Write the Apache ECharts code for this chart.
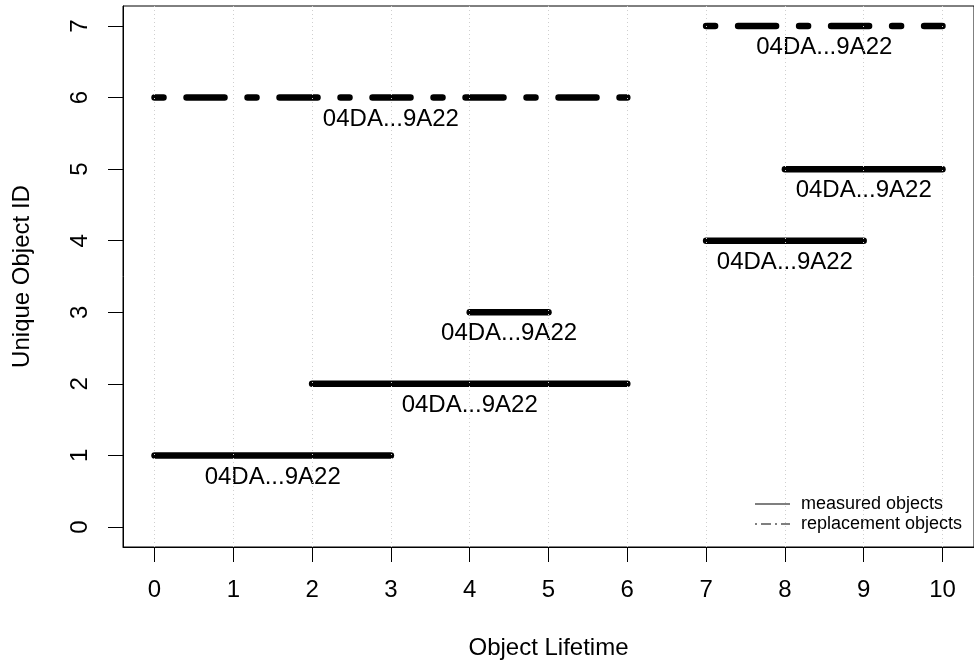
<!DOCTYPE html>
<html>
<head>
<meta charset="utf-8">
<script src="https://cdn.jsdelivr.net/npm/echarts@6/dist/echarts.min.js"></script>
<style>
  html, body { margin: 0; padding: 0; background: #fff; }
  #chart { width: 974px; height: 665px; }
</style>
</head>
<body>
<div id="chart"></div>
<script>
// ---- data ----
const objectIds    = [1, 2, 3, 4, 5, 6, 7];
const lifeStart    = [0, 2, 4, 7, 8, 0, 7];
const lifeEnd      = [3, 6, 5, 9, 10, 6, 10];
const objectKind   = ['measured', 'measured', 'measured', 'measured', 'measured', 'replacement', 'replacement'];
const objectLabels = ['04DA...9A22', '04DA...9A22', '04DA...9A22', '04DA...9A22', '04DA...9A22', '04DA...9A22', '04DA...9A22'];
const xTicks = [0, 1, 2, 3, 4, 5, 6, 7, 8, 9, 10];
const yTicks = [0, 1, 2, 3, 4, 5, 6, 7];
const legendNames = { measured: 'measured objects', replacement: 'replacement objects' };

// ---- chart ----
const FONT = '"Liberation Sans", Arial, Helvetica, sans-serif';
const chart = echarts.init(document.getElementById('chart'), null, { renderer: 'canvas' });

const dashDot = [9, 23, 38, 23];

const series = [];
objectIds.forEach((id, i) => {
  const kind = objectKind[i];
  series.push({
    type: 'line',
    name: legendNames[kind],
    data: [[lifeStart[i], id], [lifeEnd[i], id]],
    symbol: 'none',
    silent: true,
    lineStyle: {
      color: '#000',
      width: 6.5,
      cap: 'round',
      join: 'round',
      type: kind === 'measured' ? 'solid' : dashDot
    },
    itemStyle: { color: '#000' },
    z: 3
  });
});

// labels under each segment
series.push({
  type: 'scatter',
  name: 'labels',
  symbolSize: 1,
  silent: true,
  itemStyle: { color: 'rgba(0,0,0,0)', opacity: 1 },
  data: objectIds.map((id, i) => [(lifeStart[i] + lifeEnd[i]) / 2, id, objectLabels[i]]),
  label: {
    show: true,
    position: 'bottom',
    distance: 9,
    formatter: p => p.data[2],
    fontFamily: FONT,
    fontSize: 24,
    color: '#000',
    opacity: 1,
    textBorderWidth: 0
  },
  z: 4
});

// vertical dotted guide lines at x ticks
series.push({
  type: 'line',
  name: 'guides',
  data: [],
  silent: true,
  markLine: {
    silent: true,
    symbol: ['none', 'none'],
    label: { show: false },
    lineStyle: { color: '#cfcfcf', width: 1, type: [1, 3] },
    data: xTicks.map(v => ({ xAxis: v }))
  },
  z: 1
});

const option = {
  animation: false,
  backgroundColor: '#fff',
  textStyle: { fontFamily: FONT },
  grid: {
    left: 123, top: 6, right: -1, bottom: 118,
    show: true, borderColor: '#000', borderWidth: 1, backgroundColor: 'transparent'
  },
  legend: {
    orient: 'vertical',
    left: 750,
    top: 490,
    itemWidth: 35,
    itemHeight: 1,
    itemGap: 2,
    selectedMode: false,
    textStyle: { fontFamily: FONT, fontSize: 18, color: '#000', padding: [0, 0, 0, 6] },
    data: [
      { name: legendNames.measured, icon: 'path://M0,0H35V1H0Z', itemStyle: { color: '#000' } },
      { name: legendNames.replacement, icon: 'path://M0,0H2V1H0Z M6,0H16V1H6Z M20,0H22V1H20Z M26,0H35V1H26Z', itemStyle: { color: '#000' } }
    ]
  },
  xAxis: {
    type: 'value',
    min: -0.4,
    max: 10.4,
    name: 'Object Lifetime',
    nameLocation: 'middle',
    nameGap: 89,
    nameTextStyle: { fontFamily: FONT, fontSize: 24, color: '#000' },
    axisLine: { show: true, onZero: false, lineStyle: { color: '#000', width: 1 } },
    axisTick: { show: true, length: 15, inside: false, customValues: xTicks, lineStyle: { color: '#000' } },
    axisLabel: { show: true, customValues: xTicks, margin: 31, fontFamily: FONT, fontSize: 24, color: '#000' },
    splitLine: { show: false }
  },
  yAxis: {
    type: 'value',
    min: -0.28,
    max: 7.28,
    name: 'Unique Object ID',
    nameLocation: 'middle',
    nameGap: 89,
    nameRotate: 90,
    nameTextStyle: { fontFamily: FONT, fontSize: 24, color: '#000' },
    axisLine: { show: true, onZero: false, lineStyle: { color: '#000', width: 1 } },
    axisTick: { show: true, length: 15, inside: false, customValues: yTicks, lineStyle: { color: '#000' } },
    axisLabel: { show: true, customValues: yTicks, rotate: 90, margin: 31, fontFamily: FONT, fontSize: 24, color: '#000' },
    splitLine: { show: false }
  },
  series: series
};

chart.setOption(option);
</script>
</body>
</html>
